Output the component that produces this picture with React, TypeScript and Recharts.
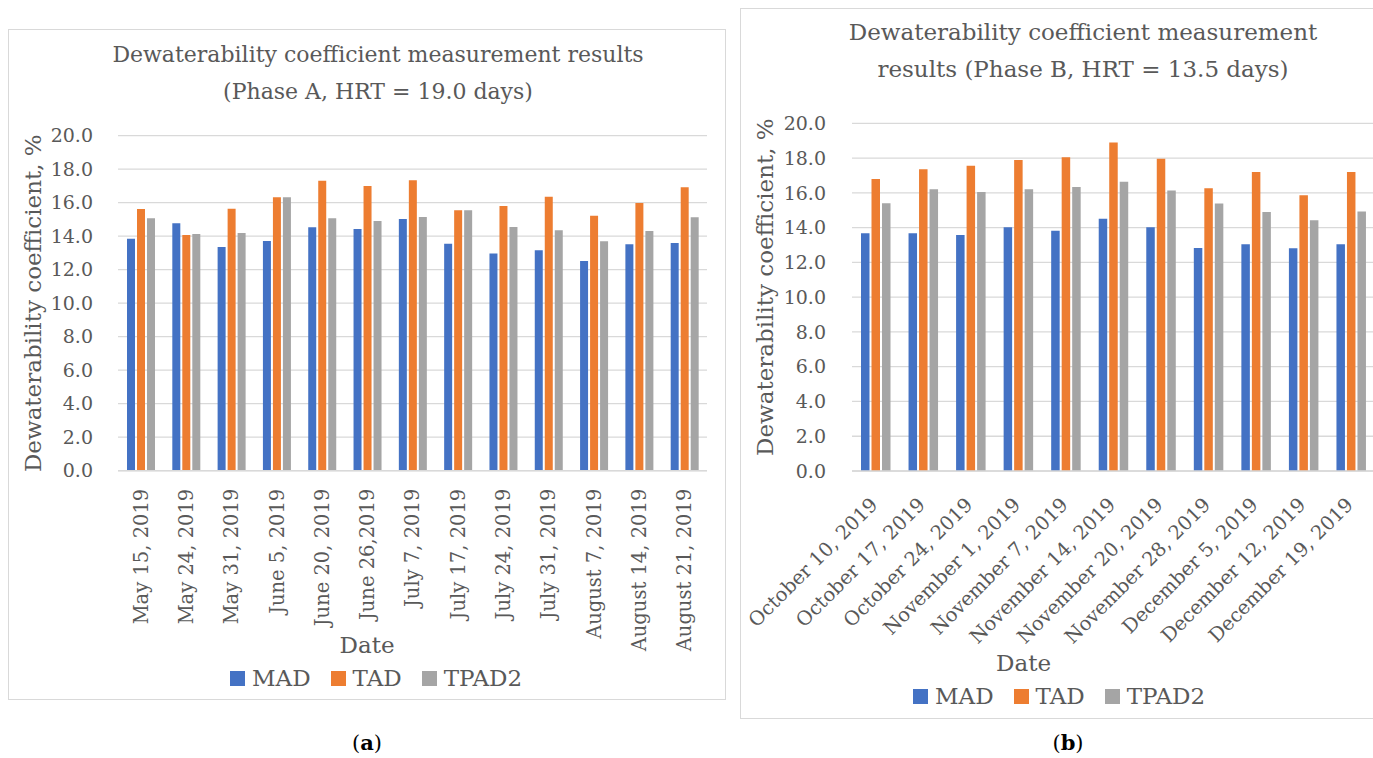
import React from "react";
import { BarChart, Bar, XAxis, YAxis, CartesianGrid, Legend } from "recharts";

// phase A
const datesA = [
  "May 15, 2019", "May 24, 2019", "May 31, 2019", "June 5, 2019", "June 20, 2019",
  "June 26,2019", "July 7, 2019", "July 17, 2019", "July 24, 2019", "July 31, 2019",
  "August 7, 2019", "August 14, 2019", "August 21, 2019",
];
const madA = [13.85, 14.77, 13.36, 13.71, 14.53, 14.43, 15.03, 13.55, 12.96, 13.16, 12.52, 13.52, 13.59];
const tadA = [15.62, 14.07, 15.64, 16.32, 17.31, 17.0, 17.34, 15.55, 15.8, 16.36, 15.22, 15.98, 16.92];
const tpad2A = [15.07, 14.13, 14.19, 16.32, 15.07, 14.91, 15.15, 15.55, 14.55, 14.35, 13.7, 14.31, 15.13];

// phase B
const datesB = [
  "October 10, 2019", "October 17, 2019", "October 24, 2019", "November 1, 2019",
  "November 7, 2019", "November 14, 2019", "November 20, 2019", "November 28, 2019",
  "December 5, 2019", "December 12, 2019", "December 19, 2019",
];
const madB = [13.67, 13.67, 13.58, 14.02, 13.82, 14.51, 14.02, 12.83, 13.04, 12.81, 13.04];
const tadB = [16.8, 17.35, 17.56, 17.89, 18.04, 18.89, 17.96, 16.26, 17.2, 15.86, 17.2];
const tpad2B = [15.4, 16.2, 16.05, 16.2, 16.34, 16.64, 16.14, 15.38, 14.9, 14.42, 14.92];

const yTicks = [0, 2, 4, 6, 8, 10, 12, 14, 16, 18, 20];

const FONT = '"DejaVu Serif", serif';
const TEXT = "#595959";
const GRID = "#d9d9d9";
const BLUE = "#4472C4";
const ORANGE = "#ED7D31";
const GRAY = "#A5A5A5";

const rowsA = datesA.map((date, i) => ({ date, MAD: madA[i], TAD: tadA[i], TPAD2: tpad2A[i] }));
const rowsB = datesB.map((date, i) => ({ date, MAD: madB[i], TAD: tadB[i], TPAD2: tpad2B[i] }));

function TickA({ x, y, payload }: any) {
  const tx = x + 7;
  const ty = y + 18;
  return (
    <text x={tx} y={ty} transform={`rotate(-90 ${tx} ${ty})`} textAnchor="end"
      fill={TEXT} fontSize={19.5} fontFamily={FONT}>
      {payload.value}
    </text>
  );
}

function TickB({ x, y, payload }: any) {
  const tx = x + 3;
  const ty = y + 35;
  return (
    <text x={tx} y={ty} transform={`rotate(-45 ${tx} ${ty})`} textAnchor="end"
      fill={TEXT} fontSize={19.5} fontFamily={FONT}>
      {payload.value}
    </text>
  );
}

function renderLegend(props: any) {
  const { payload } = props;
  return (
    <div style={{ display: "flex", alignItems: "center", fontFamily: FONT, fontSize: 23, color: TEXT, whiteSpace: "nowrap", lineHeight: "28px" }}>
      {payload.map((entry: any, i: number) => (
        <span key={entry.value} style={{ display: "flex", alignItems: "center", marginLeft: i ? 20 : 0 }}>
          <span style={{ display: "inline-block", width: 15, height: 15, background: entry.color, marginRight: 7 }} />
          {entry.value}
        </span>
      ))}
    </div>
  );
}

const labelStyle = { fill: TEXT, fontSize: 23, fontFamily: FONT };

export default function App() {
  return (
    <div style={{ position: "absolute", left: 0, top: 0, width: 1373, height: 758, overflow: "hidden", background: "#fff", fontFamily: FONT }}>
      {/* panel a */}
      <div style={{ position: "absolute", left: 8, top: 29, width: 718, height: 671, border: `1.5px solid ${GRID}`, boxSizing: "border-box" }} />
      <div style={{ position: "absolute", left: 8, top: 36, width: 740, textAlign: "center", fontSize: 22, lineHeight: "37px", color: TEXT }}>
        Dewaterability coefficient measurement results<br />(Phase A, HRT = 19.0 days)
      </div>
      <div style={{ position: "absolute", left: 8, top: 29 }}>
        <BarChart width={718} height={671} data={rowsA} barGap={2}
          margin={{ top: 106.7, right: 19, bottom: 0, left: 0 }}>
          <CartesianGrid vertical={false} stroke={GRID} strokeWidth={1.3} />
          <XAxis dataKey="date" interval={0} height={229.3} tickLine={false} tickSize={0} tickMargin={0}
            axisLine={{ stroke: GRID, strokeWidth: 1.6 }} tick={<TickA />}
            label={{ value: "Date", position: "insideTop", offset: 166, dx: -45.5, style: labelStyle }} />
          <YAxis domain={[0, 20]} ticks={yTicks} width={110} axisLine={false} tickLine={false} tickSize={0} tickMargin={25}
            tickFormatter={(v: number) => v.toFixed(1)}
            tick={{ fill: TEXT, fontSize: 19, fontFamily: FONT }}
            label={{ value: "Dewaterability coefficient, %", angle: -90, position: "center", dx: -30, style: labelStyle }} />
          <Legend content={renderLegend} layout="vertical" align="center" verticalAlign="middle"
            wrapperStyle={{ left: 222, top: 635, width: "auto" }} />
          <Bar dataKey="MAD" fill={BLUE} barSize={8} isAnimationActive={false} />
          <Bar dataKey="TAD" fill={ORANGE} barSize={8} isAnimationActive={false} />
          <Bar dataKey="TPAD2" fill={GRAY} barSize={8} isAnimationActive={false} />
        </BarChart>
      </div>

      {/* panel b */}
      <div style={{ position: "absolute", left: 740, top: 8, width: 700, height: 711, border: `1.5px solid ${GRID}`, boxSizing: "border-box" }} />
      <div style={{ position: "absolute", left: 783, top: 14, width: 600, textAlign: "center", fontSize: 23, lineHeight: "37px", color: TEXT }}>
        Dewaterability coefficient measurement<br />results (Phase B, HRT = 13.5 days)
      </div>
      <div style={{ position: "absolute", left: 740, top: 8 }}>
        <BarChart width={650} height={711} data={rowsB} barGap={2}
          margin={{ top: 115.3, right: 15, bottom: 0, left: 0 }}>
          <CartesianGrid vertical={false} stroke={GRID} strokeWidth={1.3} />
          <XAxis dataKey="date" interval={0} height={248} tickLine={false} tickSize={0} tickMargin={0}
            axisLine={{ stroke: GRID, strokeWidth: 1.6 }} tick={<TickB />}
            label={{ value: "Date", position: "insideTop", offset: 184, dx: -90, style: labelStyle }} />
          <YAxis domain={[0, 20]} ticks={yTicks} width={112} axisLine={false} tickLine={false} tickSize={0} tickMargin={26}
            tickFormatter={(v: number) => v.toFixed(1)}
            tick={{ fill: TEXT, fontSize: 19, fontFamily: FONT }}
            label={{ value: "Dewaterability coefficient, %", angle: -90, position: "center", dx: -31, dy: -10, style: labelStyle }} />
          <Legend content={renderLegend} layout="vertical" align="center" verticalAlign="middle"
            wrapperStyle={{ left: 173, top: 674, width: "auto" }} />
          <Bar dataKey="MAD" fill={BLUE} barSize={8.5} isAnimationActive={false} />
          <Bar dataKey="TAD" fill={ORANGE} barSize={8.5} isAnimationActive={false} />
          <Bar dataKey="TPAD2" fill={GRAY} barSize={8.5} isAnimationActive={false} />
        </BarChart>
      </div>

      {/* captions */}
      <div style={{ position: "absolute", left: 317, top: 730, width: 100, textAlign: "center", fontSize: 21, color: "#000" }}>
        (<b>a</b>)
      </div>
      <div style={{ position: "absolute", left: 1018, top: 730, width: 100, textAlign: "center", fontSize: 21, color: "#000" }}>
        (<b>b</b>)
      </div>
    </div>
  );
}
